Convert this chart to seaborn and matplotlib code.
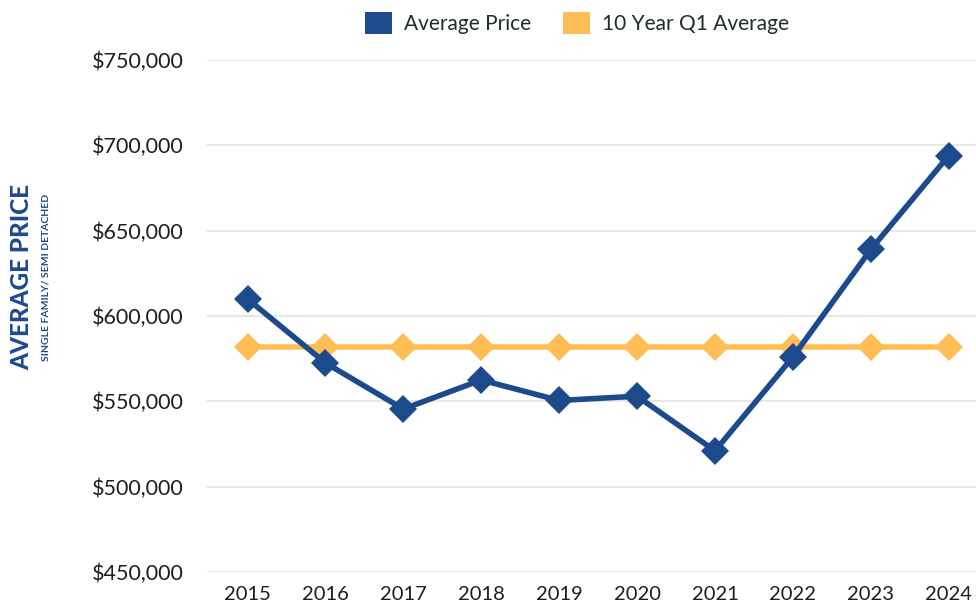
import pandas as pd
import numpy as np
import matplotlib.pyplot as plt
import matplotlib.ticker as mticker
from matplotlib.patches import Patch
import seaborn as sns

# values
years = [2015, 2016, 2017, 2018, 2019, 2020, 2021, 2022, 2023, 2024]
avg_price = [610000, 572500, 545500, 562500, 550500, 553000, 521000, 576000, 639000, 694000]
ten_year_avg = [582000] * 10
series_names = ["Average Price", "10 Year Q1 Average"]
colors = ["#1D4A8D", "#FFBE55"]

df = pd.DataFrame({
    "Year": [str(y) for y in years] * 2,
    "Price": avg_price + ten_year_avg,
    "Series": [series_names[0]] * len(years) + [series_names[1]] * len(years),
})

sns.set_theme(style="white")
plt.rcParams["font.family"] = ["Lato", "DejaVu Sans"]

fig = plt.figure(figsize=(9.76, 6.06), dpi=100)
ax = fig.add_axes([207 / 976, (606 - 572) / 606, 1 - 207 / 976, (572 - 60) / 606])

# draw the flat average first so the price line sits on top
sns.lineplot(data=df, x="Year", y="Price", hue="Series",
             hue_order=series_names[::-1], palette=colors[::-1],
             marker="D", markersize=14, markeredgewidth=0, linewidth=4,
             sort=False, legend=False, ax=ax)

ax.set_ylim(450000, 750000)
ax.set_xlim(-0.52, 9.35)
ax.yaxis.set_major_locator(mticker.MultipleLocator(50000))
ax.yaxis.set_major_formatter(mticker.FuncFormatter(lambda v, p: f"${v:,.0f}"))
ax.grid(axis="y", color="#E3E3E3", linewidth=1.2)
ax.set_axisbelow(True)
for s in ax.spines.values():
    s.set_visible(False)
ax.tick_params(axis="both", length=0, labelcolor="#1E1E1E")
ax.tick_params(axis="y", pad=17, labelsize=15.5)
ax.tick_params(axis="x", pad=10, labelsize=14.5)
ax.set_xlabel("")
ax.set_ylabel("")

fig.text(0.022, 0.543, "AVERAGE PRICE", rotation=90, ha="center", va="center",
         fontsize=17.5, fontweight="black", color="#1D4A8D")
fig.text(0.047, 0.543, "SINGLE FAMILY/ SEMI DETACHED", rotation=90, ha="center",
         va="center", fontsize=7.5, fontweight="bold", color="#1D4A8D")

handles = [Patch(facecolor=c, edgecolor="none") for c in colors]
fig.legend(handles, series_names, loc="center", bbox_to_anchor=(0.591, 0.962),
           ncol=2, frameon=False, fontsize=15, handlelength=1.3, handleheight=1.3,
           columnspacing=1.5, handletextpad=0.6, labelcolor="#1E2E28")

fig.savefig("out.png", dpi=100)
